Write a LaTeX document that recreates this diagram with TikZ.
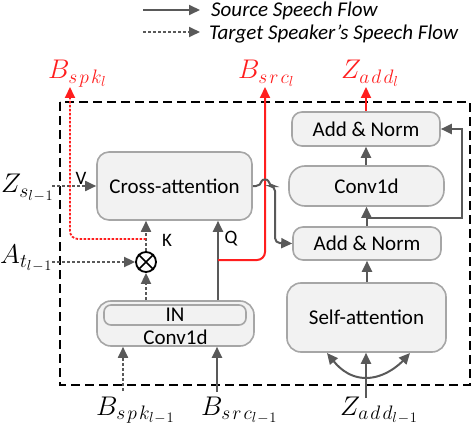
\RequirePackage{fix-cm}
\documentclass[tikz,border=0pt]{standalone}
\usepackage{fontspec}
\newfontfamily\carl{Carlito}
\usetikzlibrary{arrows.meta}
\DeclareMathSizes{27}{27}{19.5}{14.5}
\definecolor{ag}{HTML}{595959}
\definecolor{bb}{HTML}{A6A6A6}
\definecolor{bf}{HTML}{F2F2F2}
\definecolor{rr}{RGB}{255,30,30}
\tikzset{
  blk/.style={draw=bb, fill=bf, line width=1.6pt, rounded corners=12pt, font=\carl\fontsize{21}{24}\selectfont, inner sep=0pt},
  tipa/.style={-{Triangle[length=11pt,width=10pt]}},
  sflow/.style={ag, line width=2pt, tipa},
  tflow/.style={ag, line width=1.8pt, dash pattern=on 3pt off 2pt, tipa},
  rs/.style={rr, line width=2pt, tipa},
  rd/.style={rr, line width=1.8pt, dash pattern=on 2.5pt off 1.5pt, tipa},
  lab/.style={font=\fontsize{27}{30}\selectfont, inner sep=0pt},
  sm/.style={font=\carl\fontsize{19}{21}\selectfont, inner sep=0pt},
  leg/.style={font=\carl\itshape\fontsize{21}{24}\selectfont, inner sep=0pt},
  frame/.style={black, line width=1.5pt, dash pattern=on 9pt off 5pt},
}
\begin{document}
\begin{tikzpicture}[x=1pt,y=-1pt]
\useasboundingbox (0,0) rectangle (472,428);
% legend
\coordinate (l1a) at (143,10); \coordinate (l1b) at (200,10);
\coordinate (l2a) at (143,32); \coordinate (l2b) at (200,32);
\draw[sflow] (l1a) -- (l1b);
\draw[tflow] (l2a) -- (l2b);
\node[leg, anchor=base west] (l1t) at (211,17) {Source Speech Flow};
\node[leg, anchor=base west] (l2t) at (209,40) {Target Speaker’s Speech Flow};
% frame
\draw[frame] (60,102) rectangle (470,385);
% boxes
\node[blk, minimum width=155pt, minimum height=68pt] (ca) at (174.5,186) {Cross-attention};
\node[blk, rounded corners=14pt, minimum width=157pt, minimum height=45pt] (inc) at (175.5,323.5) {};
\node[blk, rounded corners=7pt, minimum width=142pt, minimum height=20pt] (in) at (175,315) {IN};
\node[font=\carl\fontsize{21}{24}\selectfont, inner sep=0pt] (cvl) at (175.5,337) {Conv1d};
\node[blk, rounded corners=14pt, minimum width=159pt, minimum height=69pt] (sa) at (366.5,317.5) {Self-attention};
\node[blk, rounded corners=10pt, minimum width=148pt, minimum height=33pt] (an1) at (367,243.5) {Add \& Norm};
\node[blk, rounded corners=16pt, minimum width=155pt, minimum height=40pt] (cv) at (366.5,186) {Conv1d};
\node[blk, rounded corners=10pt, minimum width=148pt, minimum height=34pt] (an2) at (366,129) {Add \& Norm};
% otimes
\node[circle, draw, line width=1.8pt, minimum size=20pt, inner sep=0pt] (ot) at (146,262) {};
\draw[line width=1.6pt] (ot.north west) -- (ot.south east) (ot.north east) -- (ot.south west);
% labels
\node[lab, anchor=base west] (zs) at (1,193) {$Z_{s_{l\mkern1mu-\mkern1mu1}}$};
\node[lab, anchor=base west] (at) at (0,263) {$A_{t_{l\mkern1mu-\mkern1mu1}}$};
\node[lab, rr, anchor=base west] (bspk) at (48,79) {$B_{s\mkern2mu p\mkern2mu k_l}$};
\node[lab, rr, anchor=base west] (bsrc) at (238,79) {$B_{s\mkern2mu r\mkern2mu c_l}$};
\node[lab, rr, anchor=base west] (zadd) at (341,79) {$Z_{a\mkern2mu d\mkern2mu d_l}$};
\node[lab, anchor=base west] (bspk1) at (96,415) {$B_{s\mkern2mu p\mkern2mu k_{l\mkern1mu-\mkern1mu1}}$};
\node[lab, anchor=base west] (bsrc1) at (201,415) {$B_{s\mkern2mu r\mkern2mu c_{l\mkern1mu-\mkern1mu1}}$};
\node[lab, anchor=base west] (zadd1) at (340,415) {$Z_{a\mkern2mu d\mkern2mu d_{l\mkern1mu-\mkern1mu1}}$};
\node[sm] (vl) at (81,178) {V};
\node[sm] (kl) at (167,240) {K};
\node[sm] (ql) at (231,239) {Q};
% coordinates
\coordinate (zsa) at (52,186);
\coordinate (ata) at (52,262);
\coordinate (qx) at (218,260);
\coordinate (kx) at (146,239);
\coordinate (bspkt) at (70,87);
\coordinate (bsrct) at (265,87);
\coordinate (zaddt) at (366,87);
\coordinate (bspkb) at (123,391);
\coordinate (bsrcb) at (217,392);
\coordinate (zaddb) at (366,398);
\coordinate (zfan) at (366,378);
\coordinate (fl) at (327,353);
\coordinate (fr) at (410,353);
\coordinate (res) at (366,218);
% left part
\draw[tflow] (zsa) -- (ca.west);
\draw[tflow] (ata) -- (ot.west);
\draw[tflow] (inc.north -| ot) -- (ot.south);
\draw[tflow] (ot.north) -- (ca.south -| ot);
\draw[sflow] (inc.north -| qx) -- (ca.south -| qx);
\draw[tflow] (bspkb) -- (inc.south -| bspkb);
\draw[sflow] (bsrcb) -- (inc.south -| bsrcb);
% red outputs
\draw[rd, rounded corners=8pt] (kx) -- (kx -| bspkt) -- (bspkt);
\draw[rs, rounded corners=8pt] (qx) -- (qx -| bsrct) -- (bsrct);
\draw[rs] (an2.north) -- (zaddt);
% cross-attention output with hop
\draw[sflow, rounded corners=5pt] (ca.east) -- (261,186) .. controls (262,179) and (268,179) .. (269,186) -- (275,186) -- (275,243) -- (an1.west);
% right stack
\draw[sflow] (zaddb) -- (sa.south -| zaddb);
\draw[sflow] (zfan) .. controls (347,378) and (336,364) .. (fl);
\draw[sflow] (zfan) .. controls (385,378) and (400,364) .. (fr);
\draw[sflow] (sa.north -| an1) -- (an1.south);
\draw[sflow] (an1.north -| cv) -- (cv.south);
\draw[sflow] (cv.north -| an2) -- (an2.south);
\draw[sflow] (res) -- (462,218) -- (462,129) -- (an2.east);
\end{tikzpicture}
\end{document}
